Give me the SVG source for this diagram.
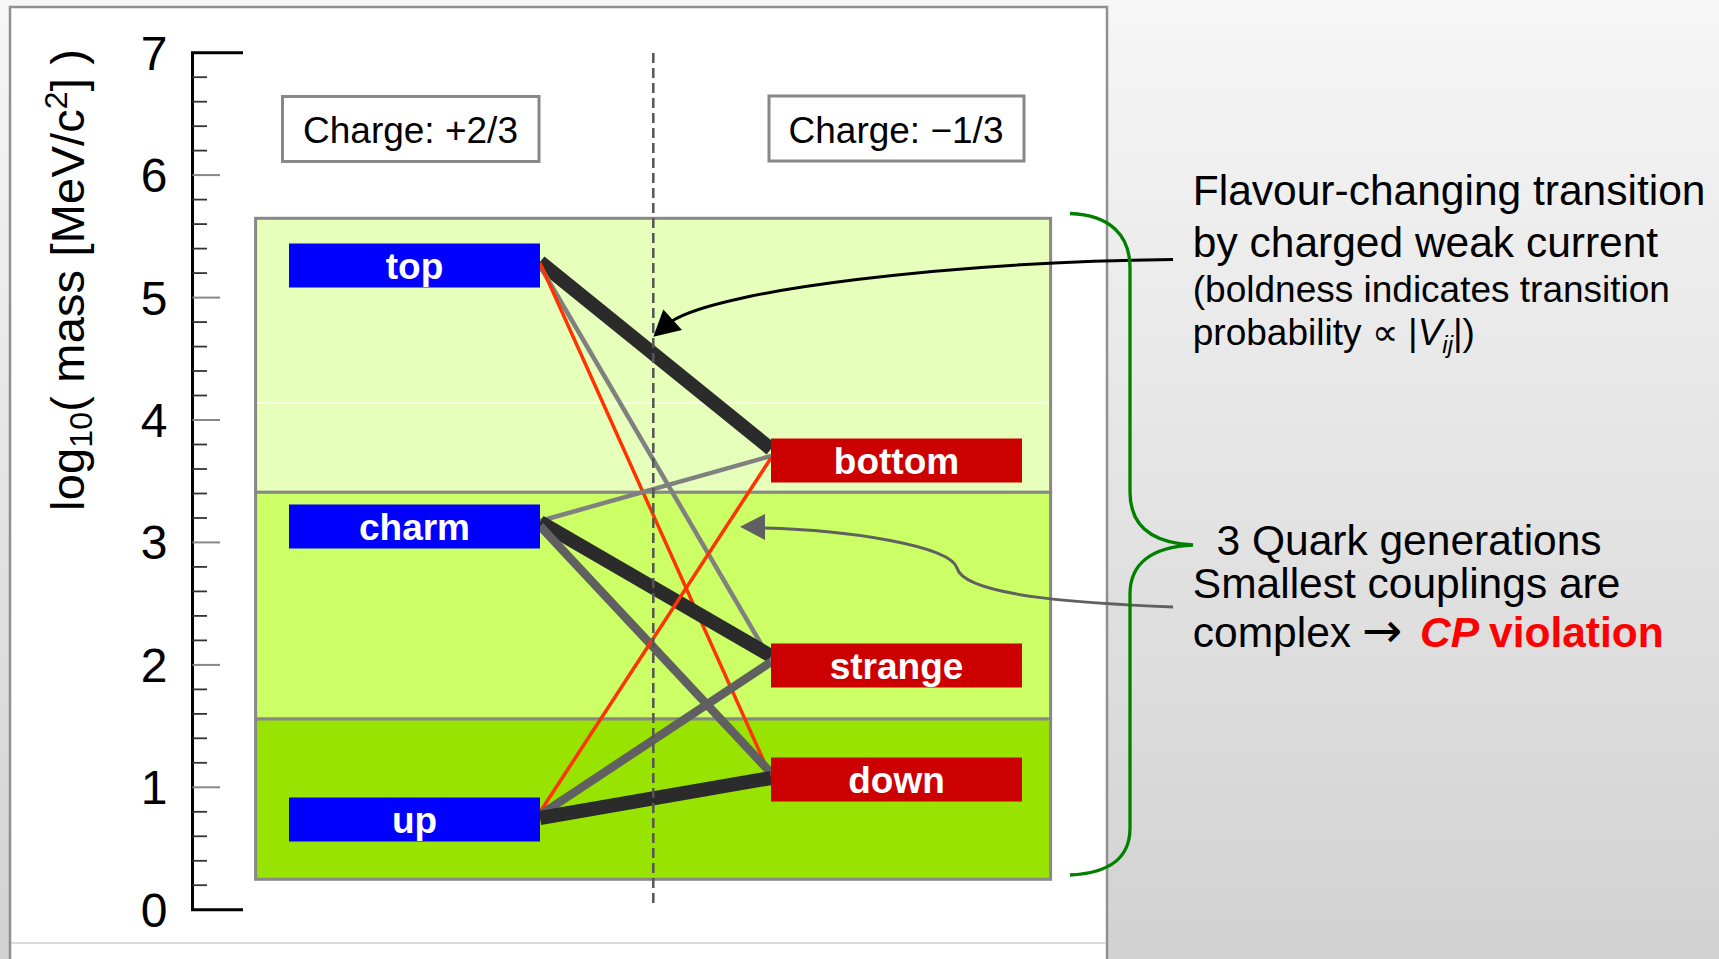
<svg xmlns="http://www.w3.org/2000/svg" width="1719" height="959" viewBox="0 0 1719 959">
<defs>
<linearGradient id="bg" x1="0" y1="0" x2="0" y2="1">
<stop offset="0" stop-color="#f6f6f6"/>
<stop offset="1" stop-color="#d2d2d2"/>
</linearGradient>
</defs>
<style>
text{font-family:"Liberation Sans",Arial,Helvetica,sans-serif}
.tick{font-size:48px;fill:#000;text-anchor:middle}
.maj{stroke:#888;stroke-width:2}
.min{stroke:#333;stroke-width:1.8}
.band{stroke:#888;stroke-width:3}
.cbox{fill:#fff;stroke:#888;stroke-width:3}
.ctext{font-size:37px;fill:#000;text-anchor:middle}
.up3{fill:#0000ff}
.dn3{fill:#cc0000}
.ntext{font-size:37px;font-weight:bold;fill:#fff;text-anchor:middle}
.vs{stroke:#2b2b2b;stroke-width:14}
.st{stroke:#606060;stroke-width:8.5}
.wk{stroke:#808080;stroke-width:4.5}
.vw{stroke:#ff3300;stroke-width:3.5}
.ann{font-size:42.5px;fill:#000}
.ann2{font-size:37px;fill:#000}
</style>
<rect x="0" y="0" width="1719" height="959" fill="url(#bg)"/>
<rect x="10" y="7" width="1097" height="960" fill="#fff" stroke="#909090" stroke-width="2.5"/>
<line x1="11" y1="943" x2="1106" y2="943" stroke="#cfcfcf" stroke-width="1.5"/>

<g id="axis">
<text transform="translate(84,280) rotate(-90)" text-anchor="middle" font-size="47" textLength="462" lengthAdjust="spacing">log<tspan font-size="32" dy="8">10</tspan><tspan dy="-8">( mass [MeV/c</tspan><tspan font-size="32" dy="-17">2</tspan><tspan dy="17">] )</tspan></text>
<path d="M243 52.7 H192.5 V909.7 H243" fill="none" stroke="#000" stroke-width="3"/>
<g class="maj">
<line x1="192.5" y1="175.1" x2="220" y2="175.1"/>
<line x1="192.5" y1="297.6" x2="220" y2="297.6"/>
<line x1="192.5" y1="420" x2="220" y2="420"/>
<line x1="192.5" y1="542.4" x2="220" y2="542.4"/>
<line x1="192.5" y1="664.9" x2="220" y2="664.9"/>
<line x1="192.5" y1="787.3" x2="220" y2="787.3"/>
</g>
<g class="min">
<line x1="192.5" y1="77.2" x2="207" y2="77.2"/><line x1="192.5" y1="101.7" x2="207" y2="101.7"/><line x1="192.5" y1="126.2" x2="207" y2="126.2"/><line x1="192.5" y1="150.6" x2="207" y2="150.6"/>
<line x1="192.5" y1="199.6" x2="207" y2="199.6"/><line x1="192.5" y1="224.1" x2="207" y2="224.1"/><line x1="192.5" y1="248.6" x2="207" y2="248.6"/><line x1="192.5" y1="273.1" x2="207" y2="273.1"/>
<line x1="192.5" y1="322.1" x2="207" y2="322.1"/><line x1="192.5" y1="346.6" x2="207" y2="346.6"/><line x1="192.5" y1="371" x2="207" y2="371"/><line x1="192.5" y1="395.5" x2="207" y2="395.5"/>
<line x1="192.5" y1="444.5" x2="207" y2="444.5"/><line x1="192.5" y1="469" x2="207" y2="469"/><line x1="192.5" y1="493.5" x2="207" y2="493.5"/><line x1="192.5" y1="518" x2="207" y2="518"/>
<line x1="192.5" y1="566.9" x2="207" y2="566.9"/><line x1="192.5" y1="591.4" x2="207" y2="591.4"/><line x1="192.5" y1="615.9" x2="207" y2="615.9"/><line x1="192.5" y1="640.4" x2="207" y2="640.4"/>
<line x1="192.5" y1="689.4" x2="207" y2="689.4"/><line x1="192.5" y1="713.9" x2="207" y2="713.9"/><line x1="192.5" y1="738.3" x2="207" y2="738.3"/><line x1="192.5" y1="762.8" x2="207" y2="762.8"/>
<line x1="192.5" y1="811.8" x2="207" y2="811.8"/><line x1="192.5" y1="836.3" x2="207" y2="836.3"/><line x1="192.5" y1="860.8" x2="207" y2="860.8"/><line x1="192.5" y1="885.2" x2="207" y2="885.2"/>
</g>
<text class="tick" x="154" y="69.7">7</text>
<text class="tick" x="154" y="192.1">6</text>
<text class="tick" x="154" y="314.6">5</text>
<text class="tick" x="154" y="437">4</text>
<text class="tick" x="154" y="559.4">3</text>
<text class="tick" x="154" y="681.9">2</text>
<text class="tick" x="154" y="804.3">1</text>
<text class="tick" x="154" y="926.7">0</text>
</g>

<g id="bands">
<rect class="band" x="255.6" y="218.3" width="795" height="274" fill="#e6ffba"/>
<line x1="257" y1="403.3" x2="1049" y2="403.3" stroke="#ffffff" stroke-width="1.5"/>
<rect class="band" x="255.6" y="492.3" width="795" height="226.7" fill="#ccff66"/>
<rect class="band" x="255.6" y="719" width="795" height="160.3" fill="#99e300"/>
</g>

<g id="charge-plus">
<rect class="cbox" x="282.5" y="96.5" width="256.5" height="65"/>
<text class="ctext" x="410.5" y="143">Charge: +2/3</text>
</g>
<g id="charge-minus">
<rect class="cbox" x="769" y="96" width="255" height="65"/>
<text class="ctext" x="896" y="143">Charge: −1/3</text>
</g>

<g id="connectors" fill="none">
<line class="vs" x1="540" y1="262" x2="771" y2="449"/>
<line class="wk" x1="540" y1="266" x2="771" y2="661"/>
<line class="vw" x1="540" y1="263" x2="771" y2="777"/>
<line class="wk" x1="540" y1="521" x2="771" y2="456"/>
<line class="vs" x1="540" y1="522" x2="771" y2="656"/>
<line class="st" x1="540" y1="526" x2="771" y2="773"/>
<line class="vw" x1="540" y1="812" x2="771" y2="458"/>
<line class="st" x1="540" y1="815" x2="771" y2="662"/>
<line class="vs" x1="540" y1="818" x2="771" y2="778"/>
</g>

<line id="divider" x1="653.3" y1="53" x2="653.3" y2="905" stroke="#555" stroke-width="2.5" stroke-dasharray="10 5"/>

<g id="node-top"><rect class="up3" x="289" y="243.5" width="251" height="44"/><text class="ntext" x="414.5" y="279">top</text></g>
<g id="node-charm"><rect class="up3" x="289" y="504.5" width="251" height="44"/><text class="ntext" x="414.5" y="540">charm</text></g>
<g id="node-up"><rect class="up3" x="289" y="797.5" width="251" height="44"/><text class="ntext" x="414.5" y="833">up</text></g>
<g id="node-bottom"><rect class="dn3" x="771" y="438.5" width="251" height="44"/><text class="ntext" x="896.5" y="474">bottom</text></g>
<g id="node-strange"><rect class="dn3" x="771" y="643.5" width="251" height="44"/><text class="ntext" x="896.5" y="679">strange</text></g>
<g id="node-down"><rect class="dn3" x="771" y="757.5" width="251" height="44"/><text class="ntext" x="896.5" y="793">down</text></g>

<g id="annotations">
<path d="M1173 259.5 C950 262 720 290 672 321" fill="none" stroke="#000" stroke-width="3"/>
<polygon points="653.3,336.7 663.3,309.5 682,330" fill="#000"/>
<path d="M1173 607 C1100 604 965 598 957 568 C950 546 850 530 764 528" fill="none" stroke="#606060" stroke-width="3"/>
<polygon points="740,526.7 765,514 765,540" fill="#606060"/>
<path d="M1070 213.5 C1110 215 1130 235 1130 268 L1130 492 C1130 525 1150 543 1193 545 C1150 547 1130 565 1130 594 L1130 828 C1130 858 1110 873 1070 875" fill="none" stroke="#008000" stroke-width="3.3"/>
<text class="ann" x="1192.8" y="205">Flavour-changing transition</text>
<text class="ann" x="1192.8" y="256.5">by charged weak current</text>
<text class="ann2" x="1192.8" y="302">(boldness indicates transition</text>
<text class="ann2" x="1192.8" y="345">probability ∝ |<tspan font-style="italic">V</tspan><tspan font-style="italic" font-size="24" dy="8">ij</tspan><tspan dy="-8">|)</tspan></text>
<text class="ann" x="1216.5" y="555" fill="#008000">3 Quark generations</text>
<text class="ann" x="1192.8" y="597.5">Smallest couplings are</text>
<text class="ann" x="1192.8" y="647">complex <tspan x="1362" font-family="DejaVu Sans" font-size="48">→</tspan><tspan x="1420" fill="#ff0000" font-weight="bold" font-style="italic">CP</tspan><tspan x="1489" fill="#ff0000" font-weight="bold">violation</tspan></text>
</g>
</svg>
